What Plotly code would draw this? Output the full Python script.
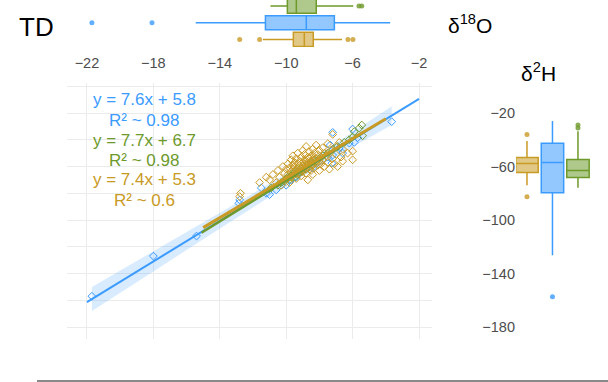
import plotly.graph_objects as go

W, H = 608, 382

# ---------------- data ----------------
groups = ["blue", "green", "gold"]
colors = {"blue": "#3B9BFF", "green": "#6E9A2B", "gold": "#C99A24"}
fills = {"blue": "rgba(59,155,255,0.55)", "green": "rgba(110,154,43,0.55)", "gold": "rgba(201,154,36,0.55)"}

blue_x = [-21.7, -18.0, -15.4, -12.85, -12.8, -11.5, -11.2, -11.0, -10.6, -10.3, -10.0, -9.7, -9.4, -9.1,
          -8.8, -8.4, -8.1, -7.8, -7.5, -7.25, -7.2, -7.2, -7.35, -6.8, -6.6, -6.2, -6.0, -5.9, -5.7, -3.65]
blue_y = [-157, -127, -112, -87.5, -85, -76, -80, -81, -77.5, -74, -74, -70, -68, -64,
          -62, -61, -57, -55, -53, -57.5, -51.5, -34.5, -44, -46, -50, -42.5, -32, -42, -38.5, -26.5]

green_x = [-10.9, -10.5, -10.3, -10.1, -10.0, -9.9, -9.8, -9.7, -9.6, -9.5, -9.5, -9.4, -9.4, -9.3, -9.3,
           -9.2, -9.1, -9.0, -8.9, -8.8, -8.7, -8.6, -8.5, -8.4, -8.3, -8.2, -8.0, -7.8, -7.5, -7.2,
           -6.9, -6.5, -6.2, -6.0, -5.9, -5.6, -5.45, -5.4]
green_y = [-76, -74, -72, -71, -69, -68, -70, -67, -66, -64, -68, -63, -65, -62, -66,
           -64, -61, -63, -60, -62, -58, -60, -57, -59, -55, -56, -54, -52, -50, -47,
           -45, -42, -40, -38, -34, -31.3, -29, -37]

gold_x = [-12.8, -12.75, -11.6, -11.2, -11.0, -10.8, -10.6, -10.5, -10.4, -10.3, -10.2, -10.1, -10.0, -10.0,
          -9.9, -9.9, -9.8, -9.8, -9.7, -9.7, -9.7, -9.6, -9.6, -9.6, -9.5, -9.5, -9.5, -9.4, -9.4, -9.4,
          -9.3, -9.3, -9.3, -9.2, -9.2, -9.2, -9.1, -9.1, -9.1, -9.0, -9.0, -9.0, -9.0, -8.9, -8.9, -8.9,
          -8.9, -8.8, -8.8, -8.8, -8.8, -8.7, -8.7, -8.7, -8.7, -8.6, -8.6, -8.6, -8.6, -8.5, -8.5, -8.5,
          -8.5, -8.4, -8.4, -8.4, -8.4, -8.3, -8.3, -8.3, -8.2, -8.2, -8.2, -8.1, -8.1, -8.0, -8.0, -8.0,
          -7.9, -7.9, -7.8, -7.8, -7.7, -7.7, -7.6, -7.5, -7.5, -7.4, -7.3, -7.2, -7.2, -7.1, -7.0, -7.0,
          -6.9, -6.8, -6.7, -6.6, -6.6, -6.3, -6.0, -6.0]
gold_y = [-82.5, -80, -72, -68, -70, -66, -72, -63, -68, -74, -60, -65, -70, -62,
          -58, -66, -72, -61, -55, -64, -68, -59, -62, -52, -66, -57, -60, -63, -54, -69,
          -58, -61, -50, -65, -56, -59, -62, -53, -67, -57, -60, -48, -64, -55, -58, -62,
          -51, -59, -56, -65, -45, -53, -60, -57, -70, -62, -54, -49, -58, -56, -52, -63,
          -60, -47, -55, -58, -66, -53, -50, -61, -57, -44, -54, -59, -51, -56, -48, -63,
          -53, -58, -46, -55, -50, -60, -52, -57, -43, -62, -48, -54, -36, -58, -45, -51,
          -60, -42, -53, -56, -47, -50, -48.5, -55]

# regression fits (from the printed equations) and drawn extents
fit_slope = {"blue": 7.6, "green": 7.7, "gold": 7.4}
fit_icpt = {"blue": 5.8, "green": 6.7, "gold": 5.3}
fit_xmin = {"blue": -22.0, "green": -15.1, "gold": -15.0}
fit_xmax = {"blue": -2.0, "green": -5.4, "gold": -4.0}
fit_r2 = {"blue": "0.98", "green": "0.98", "gold": "0.6"}

# blue confidence band (half width)
band_x = [-21.7, -18.0, -15.0, -12.0, -10.0, -8.5, -7.0, -5.5, -3.65]
band_half = [9.0, 7.5, 6.2, 5.0, 4.5, 4.5, 5.0, 5.8, 7.0]

# marginal box statistics: delta18O (top)
o_q1 = {"blue": -11.25, "green": -9.93, "gold": -9.57}
o_med = {"blue": -8.79, "green": -9.39, "gold": -8.91}
o_q3 = {"blue": -7.1, "green": -8.19, "gold": -8.37}
o_lo = {"blue": -15.45, "green": -10.95, "gold": -11.4}
o_hi = {"blue": -3.74, "green": -5.96, "gold": -6.64}
o_out = {"blue": [-21.7, -18.08], "green": [-5.62, -5.45], "gold": [-12.8, -11.6, -6.28, -5.98]}

# marginal box statistics: delta2H (right)
h_q1 = {"blue": -79.6, "green": -68.3, "gold": -64.5}
h_med = {"blue": -57.0, "green": -63.0, "gold": -57.7}
h_q3 = {"blue": -42.6, "green": -54.7, "gold": -53.2}
h_lo = {"blue": -126.4, "green": -75.8, "gold": -74.0}
h_hi = {"blue": -26.0, "green": -33.6, "gold": -41.0}
h_out = {"blue": [-157.4], "green": [-29.0, -31.3], "gold": [-36.0, -82.6]}

top_pos = {"gold": 0, "blue": 1, "green": 2}
right_pos = {"gold": 0, "blue": 1, "green": 2}

x_ticks = [-22, -18, -14, -10, -6, -2]
y_grid = [0, -20, -40, -60, -80, -100, -120, -140, -160, -180]
y_ticks = [-20, -60, -100, -140, -180]

# ---------------- figure ----------------
fig = go.Figure()

# blue band
bl_up = [fit_slope["blue"] * x + fit_icpt["blue"] + h for x, h in zip(band_x, band_half)]
bl_dn = [fit_slope["blue"] * x + fit_icpt["blue"] - h for x, h in zip(band_x, band_half)]
fig.add_trace(go.Scatter(x=band_x + band_x[::-1], y=bl_up + bl_dn[::-1], fill="toself",
                         fillcolor="rgba(59,155,255,0.2)", line=dict(width=0), mode="lines",
                         hoverinfo="skip", showlegend=False, xaxis="x", yaxis="y"))

pts = {"blue": (blue_x, blue_y), "green": (green_x, green_y), "gold": (gold_x, gold_y)}
for g in groups:
    xs, ys = pts[g]
    fig.add_trace(go.Scatter(x=xs, y=ys, mode="markers",
                             marker=dict(symbol="diamond-open", size=6, color=colors[g], line=dict(width=1)),
                             showlegend=False, xaxis="x", yaxis="y"))

lw = {"blue": 2, "green": 2.5, "gold": 3}
for g in groups:
    xs = [fit_xmin[g], fit_xmax[g]]
    ys = [fit_slope[g] * x + fit_icpt[g] for x in xs]
    fig.add_trace(go.Scatter(x=xs, y=ys, mode="lines", line=dict(color=colors[g], width=lw[g]),
                             showlegend=False, xaxis="x", yaxis="y"))

# top boxes (horizontal)
for g in groups:
    fig.add_trace(go.Box(orientation="h", y=[top_pos[g]], q1=[o_q1[g]], median=[o_med[g]], q3=[o_q3[g]],
                         lowerfence=[o_lo[g]], upperfence=[o_hi[g]], width=0.85, whiskerwidth=0,
                         boxpoints=False, line=dict(color=colors[g], width=1.5), fillcolor=fills[g],
                         showlegend=False, xaxis="x2", yaxis="y2"))
    fig.add_trace(go.Scatter(x=o_out[g], y=[top_pos[g]] * len(o_out[g]), mode="markers",
                             marker=dict(size=5, color=colors[g], opacity=0.8),
                             showlegend=False, xaxis="x2", yaxis="y2"))

# right boxes (vertical)
for g in groups:
    fig.add_trace(go.Box(x=[right_pos[g]], q1=[h_q1[g]], median=[h_med[g]], q3=[h_q3[g]],
                         lowerfence=[h_lo[g]], upperfence=[h_hi[g]], width=0.88, whiskerwidth=0,
                         boxpoints=False, line=dict(color=colors[g], width=1.5), fillcolor=fills[g],
                         showlegend=False, xaxis="x3", yaxis="y3"))
    fig.add_trace(go.Scatter(x=[right_pos[g]] * len(h_out[g]), y=h_out[g], mode="markers",
                             marker=dict(size=5, color=colors[g], opacity=0.8),
                             showlegend=False, xaxis="x3", yaxis="y3"))

FONT = "Liberation Sans, Arial, sans-serif"
tickfont = dict(family=FONT, size=14.5, color="#4d4d4d")

main_x_dom = [67 / W, 432 / W]
main_y_dom = [1 - 339 / H, 1 - 83 / H]

fig.update_layout(
    width=W, height=H, margin=dict(l=0, r=0, t=0, b=0),
    paper_bgcolor="white", plot_bgcolor="white",
    font=dict(family=FONT),
    xaxis=dict(domain=main_x_dom, range=[-23.2, -1.22], side="top", anchor="y",
               tickvals=x_ticks, ticks="outside", ticklen=8, tickcolor="rgba(0,0,0,0)",
               showgrid=True, gridcolor="#ebebeb", gridwidth=1, zeroline=False, showline=False,
               tickfont=tickfont),
    yaxis=dict(domain=main_y_dom, range=[-188.97, 2.43], anchor="x", tickvals=y_grid,
               showticklabels=False, ticks="", showgrid=True, gridcolor="#ebebeb", zeroline=False),
    xaxis2=dict(domain=main_x_dom, matches="x", anchor="y2", visible=False),
    yaxis2=dict(domain=[1 - 47 / H, 1], range=[-0.45, 2.36], anchor="x2", visible=False),
    xaxis3=dict(domain=[516 / W, 592 / W], range=[-0.43, 2.55], anchor="y3", visible=False),
    yaxis3=dict(domain=main_y_dom, matches="y", anchor="x3", side="left", tickvals=y_ticks,
                ticks="", showgrid=False, zeroline=False, showline=False, tickfont=tickfont),
)

# equation labels
eq_y = [100, 120, 140, 160, 180, 200]
k = 0
for g in groups:
    eq = f"y = {fit_slope[g]}x + {fit_icpt[g]}"
    r2 = f"R² ~ {fit_r2[g]}"
    for t in (eq, r2):
        fig.add_annotation(x=144 / W, y=1 - eq_y[k] / H, xref="paper", yref="paper", text=t,
                           showarrow=False, xanchor="center", yanchor="middle",
                           font=dict(family=FONT, size=17, color=colors[g]))
        k += 1

fig.add_annotation(x=17 / W, y=1 - 27 / H, xref="paper", yref="paper", text="TD", showarrow=False,
                   xanchor="left", yanchor="middle", font=dict(family=FONT, size=26, color="black"))
fig.add_annotation(x=446 / W, y=1 - 24 / H, xref="paper", yref="paper", text="δ<sup>18</sup>O",
                   showarrow=False, xanchor="left", yanchor="middle",
                   font=dict(family=FONT, size=21, color="black"))
fig.add_annotation(x=519 / W, y=1 - 72 / H, xref="paper", yref="paper", text="δ<sup>2</sup>H",
                   showarrow=False, xanchor="left", yanchor="middle",
                   font=dict(family=FONT, size=21, color="black"))

fig.add_shape(type="line", xref="paper", yref="paper", x0=37 / W, x1=1, y0=1 - 381 / H, y1=1 - 381 / H,
              line=dict(color="#8a8a8a", width=2))

fig.write_html("out.html", config={"displayModeBar": False},
               post_script="document.body.style.margin='0';document.body.style.overflow='hidden';")
